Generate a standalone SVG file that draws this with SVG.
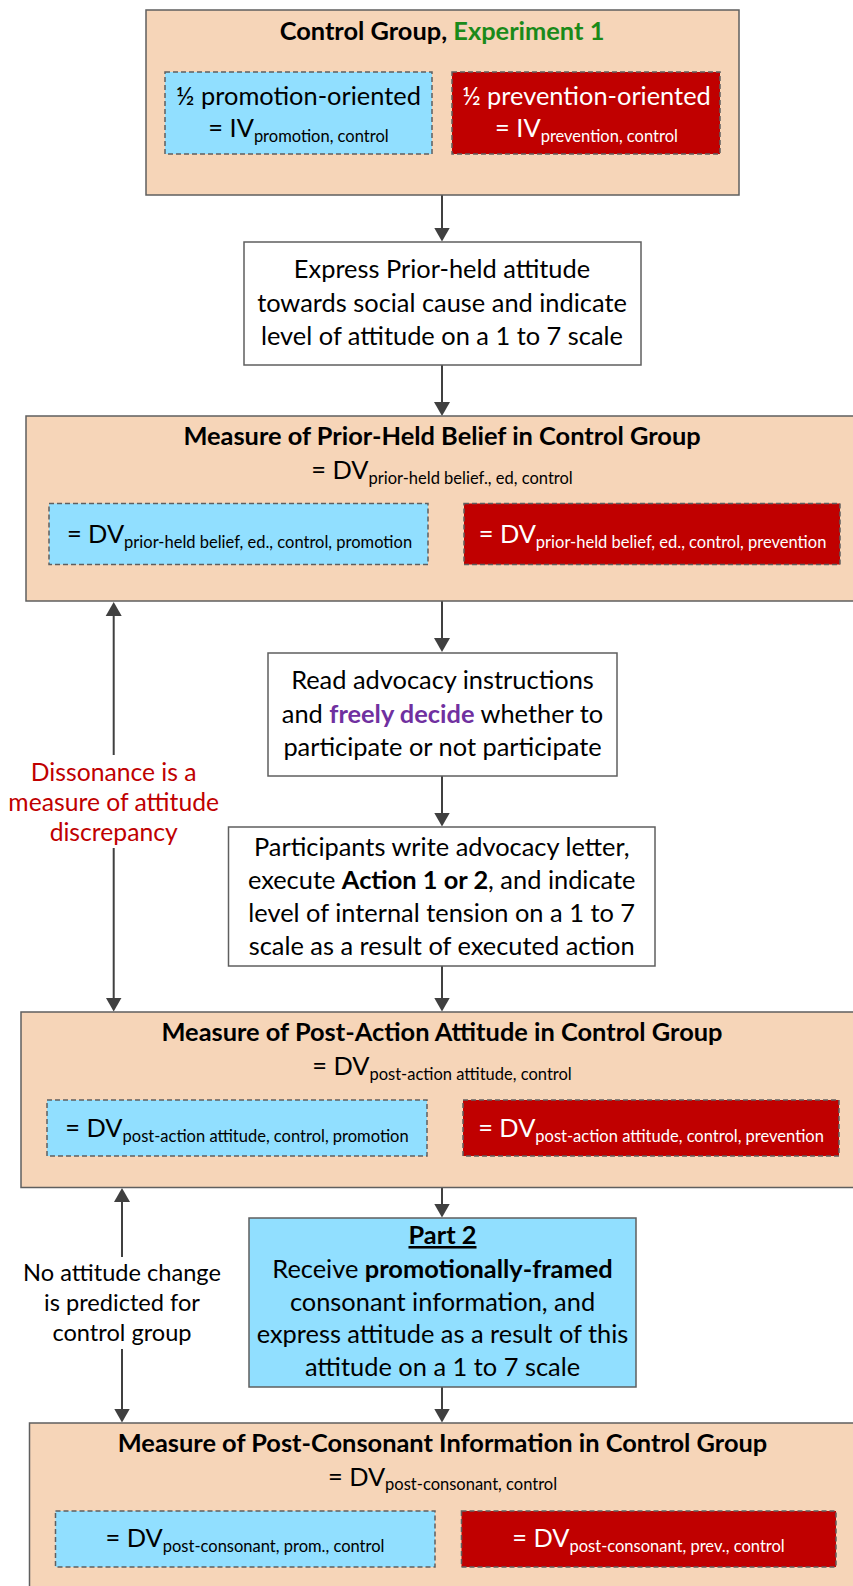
<svg xmlns="http://www.w3.org/2000/svg" width="853" height="1586" viewBox="0 0 853 1586">
<defs>
<style>
.peach{fill:#F6D5B8;stroke:#5F5F5F;stroke-width:1.5}
.white{fill:#FFFFFF;stroke:#5F5F5F;stroke-width:1.5}
.blue{fill:#91DFFF;stroke:#5F5F5F;stroke-width:1.5;stroke-dasharray:5 3}
.red{fill:#C00000;stroke:#5F5F5F;stroke-width:1.5;stroke-dasharray:5 3}
.bluesolid{fill:#91DFFF;stroke:#5F5F5F;stroke-width:1.5}
text{font-family:Lato,"Liberation Sans",sans-serif;font-size:25.4px;fill:#000;text-anchor:middle}
.b{font-weight:bold}
.w{fill:#FFFFFF}
.sub{font-size:16.5px}
.g{fill:#1A8A1A}
.p{fill:#7030A0;font-weight:bold}
.rt{fill:#C00000;font-size:24.7px}
.nl{font-size:23.6px}
.conn line{stroke:#404040;stroke-width:2}
</style>
<marker id="ah" markerUnits="userSpaceOnUse" markerWidth="16" markerHeight="18" viewBox="0 -9 16 18" refX="8" refY="0" orient="auto">
<path d="M0,-8 L14,0 L0,8 z" fill="#404040"/>
</marker>
</defs>

<g id="connectors" class="conn">
<line x1="442" y1="195" x2="442" y2="235.5" marker-end="url(#ah)"/>
<line x1="442" y1="365" x2="442" y2="410" marker-end="url(#ah)"/>
<line x1="442" y1="601" x2="442" y2="646" marker-end="url(#ah)"/>
<line x1="442" y1="776" x2="442" y2="820.5" marker-end="url(#ah)"/>
<line x1="442" y1="966" x2="442" y2="1005.5" marker-end="url(#ah)"/>
<line x1="442" y1="1187.5" x2="442" y2="1211.5" marker-end="url(#ah)"/>
<line x1="442" y1="1387" x2="442" y2="1416.5" marker-end="url(#ah)"/>
<line x1="113.7" y1="755" x2="113.7" y2="608" marker-end="url(#ah)"/>
<line x1="113.7" y1="848" x2="113.7" y2="1005.5" marker-end="url(#ah)"/>
<line x1="122" y1="1257" x2="122" y2="1194" marker-end="url(#ah)"/>
<line x1="122" y1="1349" x2="122" y2="1416.5" marker-end="url(#ah)"/>
</g>

<g id="control-group">
<rect class="peach" x="146" y="10" width="593" height="185"/>
<text x="442" y="40" class="b">Control Group, <tspan class="g">Experiment 1</tspan></text>
<g id="iv-promotion">
<rect class="blue" x="165" y="72" width="267" height="82"/>
<text x="298.5" y="105">½ promotion-oriented</text>
<text x="298.5" y="137">= IV<tspan class="sub" dy="4.5">promotion, control</tspan></text>
</g>
<g id="iv-prevention">
<rect class="red" x="452" y="72" width="268" height="82"/>
<text x="586.5" y="105" class="w">½ prevention-oriented</text>
<text x="586.5" y="137" class="w">= IV<tspan class="sub w" dy="4.5">prevention, control</tspan></text>
</g>
</g>

<g id="express-prior">
<rect class="white" x="244" y="242" width="397" height="123"/>
<text x="442" y="278">Express Prior-held attitude</text>
<text x="442" y="311.5">towards social cause and indicate</text>
<text x="442" y="344.5">level of attitude on a 1 to 7 scale</text>
</g>

<g id="measure-prior">
<rect class="peach" x="26" y="416" width="840" height="185"/>
<text x="442" y="445" class="b">Measure of Prior-Held Belief in Control Group</text>
<text x="442" y="479">= DV<tspan class="sub" dy="4.5">prior-held belief., ed, control</tspan></text>
<g id="dv-prior-promotion">
<rect class="blue" x="49" y="503.5" width="379" height="61"/>
<text x="239.5" y="543">= DV<tspan class="sub" dy="4.5">prior-held belief, ed., control, promotion</tspan></text>
</g>
<g id="dv-prior-prevention">
<rect class="red" x="464" y="503.5" width="376" height="61"/>
<text x="652.5" y="543" class="w">= DV<tspan class="sub w" dy="4.5">prior-held belief, ed., control, prevention</tspan></text>
</g>
</g>

<g id="read-advocacy">
<rect class="white" x="268" y="653" width="349" height="123"/>
<text x="442.5" y="689">Read advocacy instructions</text>
<text x="442.5" y="722.5">and <tspan class="p">freely decide</tspan> whether to</text>
<text x="442.5" y="755.5">participate or not participate</text>
</g>

<g id="write-letter">
<rect class="white" x="228.5" y="827" width="426.5" height="139"/>
<text x="441.7" y="855.5">Participants write advocacy letter,</text>
<text x="441.7" y="888.5">execute <tspan class="b">Action 1 or 2</tspan>, and indicate</text>
<text x="441.7" y="921.5">level of internal tension on a 1 to 7</text>
<text x="441.7" y="954.5">scale as a result of executed action</text>
</g>

<g id="dissonance-label">
<text x="113.7" y="781" class="rt">Dissonance is a</text>
<text x="113.7" y="811" class="rt">measure of attitude</text>
<text x="113.7" y="841" class="rt">discrepancy</text>
</g>

<g id="measure-post-action">
<rect class="peach" x="21" y="1012" width="845" height="175.5"/>
<text x="442" y="1041" class="b">Measure of Post-Action Attitude in Control Group</text>
<text x="442" y="1075">= DV<tspan class="sub" dy="4.5">post-action attitude, control</tspan></text>
<g id="dv-post-action-promotion">
<rect class="blue" x="47" y="1100" width="380" height="56"/>
<text x="237" y="1137">= DV<tspan class="sub" dy="4.5">post-action attitude, control, promotion</tspan></text>
</g>
<g id="dv-post-action-prevention">
<rect class="red" x="463" y="1100" width="376" height="56"/>
<text x="651" y="1137" class="w">= DV<tspan class="sub w" dy="4.5">post-action attitude, control, prevention</tspan></text>
</g>
</g>

<g id="part2">
<rect class="bluesolid" x="249" y="1218" width="387" height="169"/>
<text x="442.5" y="1244" class="b" text-decoration="underline">Part 2</text>
<text x="442.5" y="1277.5">Receive <tspan class="b">promotionally-framed</tspan></text>
<text x="442.5" y="1310.5">consonant information, and</text>
<text x="442.5" y="1343">express attitude as a result of this</text>
<text x="442.5" y="1376">attitude on a 1 to 7 scale</text>
</g>

<g id="no-change-label">
<text x="122" y="1280.5" class="nl">No attitude change</text>
<text x="122" y="1310.5" class="nl">is predicted for</text>
<text x="122" y="1340.5" class="nl">control group</text>
</g>

<g id="measure-post-consonant">
<rect class="peach" x="29.5" y="1423" width="840" height="180"/>
<text x="442.5" y="1452" class="b">Measure of Post-Consonant Information in Control Group</text>
<text x="442.5" y="1485.5">= DV<tspan class="sub" dy="4.5">post-consonant, control</tspan></text>
<g id="dv-post-consonant-prom">
<rect class="blue" x="55.5" y="1511" width="379.5" height="56"/>
<text x="245" y="1547">= DV<tspan class="sub" dy="4.5">post-consonant, prom., control</tspan></text>
</g>
<g id="dv-post-consonant-prev">
<rect class="red" x="461.5" y="1511" width="374.5" height="56"/>
<text x="648.5" y="1547" class="w">= DV<tspan class="sub w" dy="4.5">post-consonant, prev., control</tspan></text>
</g>
</g>
</svg>
